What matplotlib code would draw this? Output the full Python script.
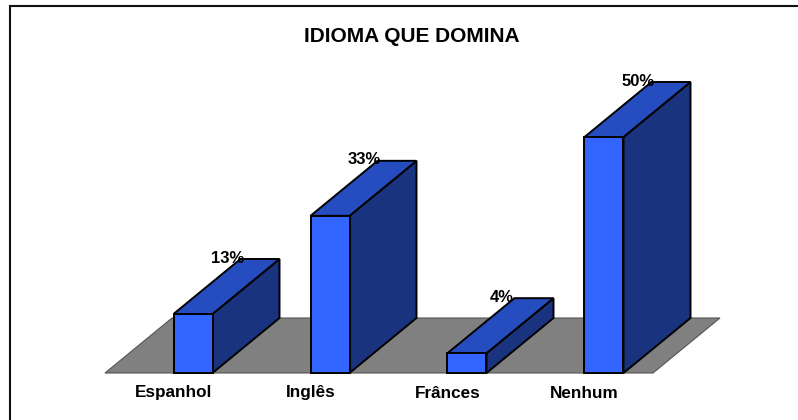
"""
Idioma que domina - fake 3D bar chart
"""

import matplotlib
matplotlib.use('Agg')
import matplotlib.pyplot as plt
from matplotlib.lines import Line2D

plt.rcParams['font.family'] = ['Liberation Sans', 'DejaVu Sans']

# data
categories = ['Espanhol', 'Inglês', 'Frânces', 'Nenhum']
values = [12.5, 33.3, 4.2, 50.0]
valueLabels = ['13%', '33%', '4%', '50%']

# colours
frontColor = '#3366FF'
topColor = '#264DBF'
sideColor = '#1A337F'
floorColor = '#808080'

W, H = 798, 420
fig = plt.figure(figsize=(W / 100, H / 100), dpi=100)

# chart frame, only left and top are inside the picture
fig.add_artist(Line2D([9.5 / W, 9.5 / W, 1], [0, 1 - 5.5 / H, 1 - 5.5 / H],
                      color='#111111', linewidth=1.5, solid_joinstyle='miter'))

ax = fig.add_axes([105 / W, 1 - 373 / H, 548 / W, 236 / H])
ax.set_xlim(-0.5, 3.5)
ax.set_ylim(0, 50)
ax.patch.set_alpha(0)
for s in ax.spines.values():
    s.set_visible(False)

# depth of the 3D effect in data units
dx = 67 / 137
dy = 55 / 236 * 50
barWidth = 39 / 137

# floor
ax.fill([-0.5, 3.5, 3.5 + dx, -0.5 + dx], [0, 0, dy, dy], facecolor=floorColor,
        edgecolor='#555555', linewidth=0.8, clip_on=False, zorder=1)

# bars, back faces first
for i, v in enumerate(values):
    r = i + barWidth
    ax.fill([r, r + dx, r + dx, r], [0, dy, v + dy, v], facecolor=sideColor,
            edgecolor='black', linewidth=1.4, clip_on=False, zorder=2)
    ax.fill([i, r, r + dx, i + dx], [v, v, v + dy, v + dy], facecolor=topColor,
            edgecolor='black', linewidth=1.4, clip_on=False, zorder=2)
bars = ax.bar(range(len(values)), values, width=barWidth, align='edge', color=frontColor,
              edgecolor='black', linewidth=1.4, clip_on=False, zorder=3)

for i, (v, lab) in enumerate(zip(values, valueLabels)):
    ax.text(i + 54 / 137, v + dy + 0.2, lab, ha='center', va='center', fontsize=12,
            fontweight='bold', color='black', zorder=4)

ax.set_xticks(range(len(categories)))
ax.set_xticklabels(categories, fontsize=12.3, fontweight='bold')
ax.tick_params(axis='x', length=0, pad=9)
ax.set_yticks([])

fig.text(412 / W, 1 - 36.5 / H, 'IDIOMA QUE DOMINA', ha='center', va='center', fontsize=15,
         fontweight='bold', color='black')

fig.savefig('out.png', dpi=100)
plt.close()
